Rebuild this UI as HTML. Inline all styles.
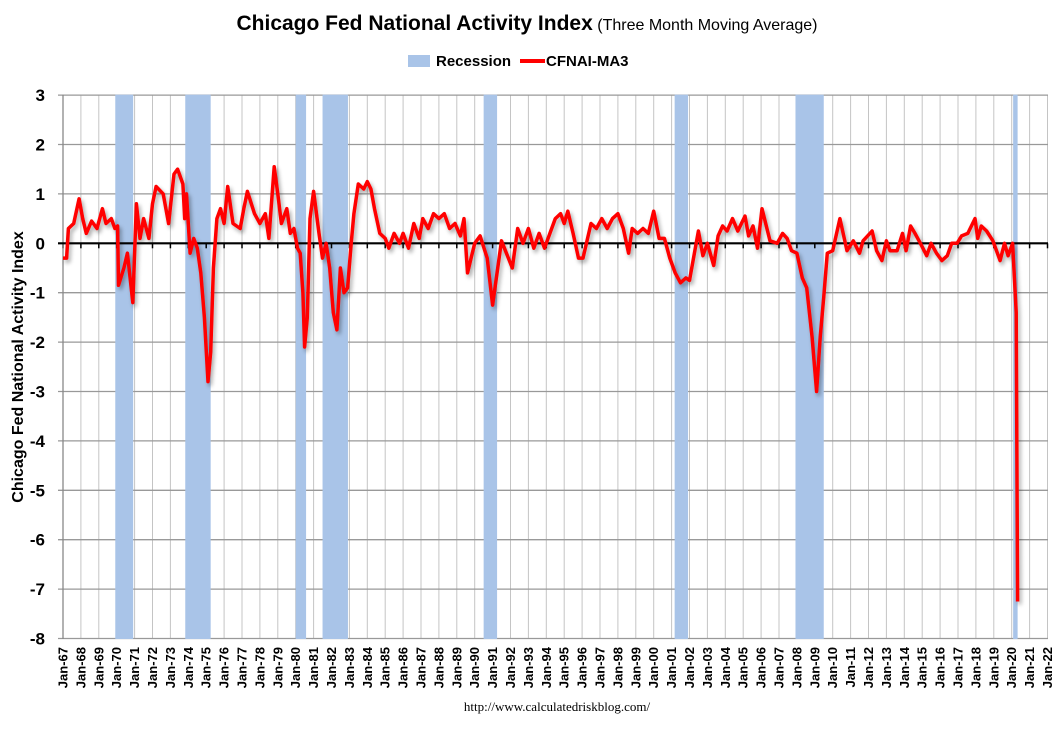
<!DOCTYPE html>
<html><head><meta charset="utf-8"><style>
body{margin:0;background:#fff;}
svg text{font-family:"Liberation Sans",Arial,sans-serif;}
</style></head><body>
<svg id="chart" width="1057" height="726" xmlns="http://www.w3.org/2000/svg">
<defs><filter id="sh" x="-5%" y="-5%" width="110%" height="110%"><feGaussianBlur in="SourceAlpha" stdDeviation="2"/><feOffset dx="2" dy="3"/><feComponentTransfer><feFuncA type="linear" slope="0.35"/></feComponentTransfer><feMerge><feMergeNode/><feMergeNode in="SourceGraphic"/></feMerge></filter></defs>
<text x="527" y="30" text-anchor="middle"><tspan font-size="21" font-weight="bold">Chicago Fed National Activity Index</tspan><tspan font-size="16"> (Three Month Moving Average)</tspan></text>
<g>
<rect x="408" y="55" width="22" height="12" fill="#a9c4e8"/>
<text x="436" y="66" font-size="15" font-weight="bold">Recession</text>
<line x1="520" y1="61" x2="545" y2="61" stroke="#ff0000" stroke-width="4"/>
<text x="546" y="66" font-size="15" font-weight="bold">CFNAI-MA3</text>
</g>
<g id="grid"></g><g id="rec"></g><g id="axes"></g><g id="series"></g>
<text transform="translate(23,367) rotate(-90)" text-anchor="middle" font-size="16" font-weight="bold">Chicago Fed National Activity Index</text>
<text x="557" y="711" text-anchor="middle" font-size="13" style="font-family:'Liberation Serif',serif">http://www.calculatedriskblog.com/</text>
</svg>
<script>
const yTicks=[3,2,1,0,-1,-2,-3,-4,-5,-6,-7,-8];
const yearLabels=[];for(let y=67;y<=122;y++){yearLabels.push('Jan-'+String(y%100).padStart(2,'0'));}
const recStart=[1969.92,1973.83,1980.0,1981.5,1990.5,2001.17,2007.92,2020.08];
const recEnd=[1970.92,1975.25,1980.58,1982.92,1991.25,2001.92,2009.5,2020.33];
const dates=[1967.0,1967.2,1967.3,1967.6,1967.9,1968.1,1968.3,1968.6,1968.9,1969.2,1969.4,1969.7,1969.9,1970.05,1970.1,1970.4,1970.6,1970.9,1971.1,1971.3,1971.5,1971.8,1972.0,1972.2,1972.6,1972.9,1973.2,1973.4,1973.7,1973.8,1973.9,1974.1,1974.3,1974.5,1974.7,1974.9,1975.1,1975.25,1975.4,1975.6,1975.8,1976.0,1976.2,1976.5,1976.9,1977.1,1977.3,1977.7,1978.0,1978.3,1978.5,1978.8,1979.0,1979.2,1979.5,1979.7,1979.9,1980.1,1980.25,1980.4,1980.5,1980.65,1980.8,1981.0,1981.3,1981.5,1981.7,1981.9,1982.1,1982.3,1982.5,1982.7,1982.9,1983.1,1983.25,1983.5,1983.8,1984.0,1984.2,1984.4,1984.7,1985.0,1985.2,1985.5,1985.8,1986.0,1986.3,1986.6,1986.9,1987.1,1987.4,1987.7,1988.0,1988.3,1988.6,1988.9,1989.2,1989.4,1989.6,1990.0,1990.3,1990.7,1991.0,1991.5,1992.1,1992.4,1992.7,1993.0,1993.3,1993.6,1993.9,1994.2,1994.5,1994.8,1995.0,1995.2,1995.5,1995.8,1996.05,1996.5,1996.8,1997.1,1997.4,1997.7,1998.0,1998.3,1998.6,1998.8,1999.1,1999.4,1999.7,2000.0,2000.3,2000.6,2000.9,2001.2,2001.5,2001.8,2002.0,2002.5,2002.75,2003.0,2003.35,2003.6,2003.85,2004.1,2004.4,2004.7,2005.1,2005.3,2005.55,2005.8,2006.05,2006.5,2006.9,2007.2,2007.45,2007.7,2008.0,2008.3,2008.55,2008.85,2009.1,2009.3,2009.5,2009.7,2010.0,2010.4,2010.8,2011.15,2011.5,2011.7,2012.2,2012.45,2012.75,2013.0,2013.2,2013.6,2013.9,2014.1,2014.35,2014.6,2014.9,2015.25,2015.5,2015.8,2016.1,2016.4,2016.65,2016.95,2017.2,2017.55,2017.95,2018.1,2018.3,2018.6,2018.95,2019.35,2019.6,2019.8,2020.05,2020.25,2020.33];
const values=[-0.3,-0.3,0.3,0.4,0.9,0.5,0.2,0.45,0.3,0.7,0.4,0.5,0.3,0.35,-0.85,-0.5,-0.2,-1.2,0.8,0.1,0.5,0.1,0.8,1.15,1.0,0.4,1.4,1.5,1.2,0.5,1.0,-0.2,0.1,-0.1,-0.6,-1.5,-2.8,-2.2,-0.5,0.5,0.7,0.4,1.15,0.4,0.3,0.7,1.05,0.6,0.4,0.6,0.1,1.55,1.0,0.4,0.7,0.2,0.3,-0.1,-0.2,-1.0,-2.1,-1.5,0.5,1.05,0.2,-0.3,0.0,-0.5,-1.4,-1.75,-0.5,-1.0,-0.9,0.0,0.6,1.2,1.1,1.25,1.1,0.7,0.2,0.1,-0.1,0.2,0.0,0.2,-0.1,0.4,0.1,0.5,0.3,0.6,0.5,0.6,0.3,0.4,0.15,0.5,-0.6,0.0,0.15,-0.3,-1.25,0.05,-0.5,0.3,0.0,0.3,-0.1,0.2,-0.1,0.2,0.5,0.6,0.4,0.65,0.2,-0.3,-0.3,0.4,0.3,0.5,0.3,0.5,0.6,0.3,-0.2,0.3,0.2,0.3,0.2,0.65,0.1,0.1,-0.3,-0.6,-0.8,-0.7,-0.75,0.25,-0.25,0.0,-0.45,0.15,0.35,0.25,0.5,0.25,0.55,0.15,0.35,-0.1,0.7,0.05,0.0,0.2,0.1,-0.15,-0.2,-0.7,-0.9,-1.9,-3.0,-1.9,-1.1,-0.2,-0.15,0.5,-0.15,0.05,-0.2,0.05,0.25,-0.15,-0.35,0.05,-0.15,-0.15,0.2,-0.15,0.35,0.2,0.0,-0.25,0.0,-0.2,-0.35,-0.25,0.0,0.0,0.15,0.2,0.5,0.1,0.35,0.25,0.05,-0.35,0.0,-0.25,0.0,-1.4,-7.25];
const X0=63,PXY=17.9,Y0=243.3,PXU=49.4,TOP=94.7,BOT=639,RIGHT=1048;
const xs=d=>X0+(d-1967)*PXY, ys=v=>Y0-v*PXU;
const NS='http://www.w3.org/2000/svg';
function mk(tag,attrs,parent){const e=document.createElementNS(NS,tag);for(const k in attrs)e.setAttribute(k,attrs[k]);parent.appendChild(e);return e;}
const grid=document.getElementById('grid'),rec=document.getElementById('rec'),axes=document.getElementById('axes'),series=document.getElementById('series');
yearLabels.forEach((lab,i)=>{const x=xs(1967+i);
 if(i>0){const l=mk('line',{x1:x,y1:TOP,x2:x,y2:BOT,stroke:'#c4c4c4','stroke-width':1},grid);
 
 }
 const t=mk('text',{transform:`translate(${x+4.5},647) rotate(-90)`,'text-anchor':'end','font-size':13,'font-weight':'bold'},axes);
 t.textContent=lab;
 
 
 const tk=mk('line',{x1:x,y1:Y0,x2:x,y2:Y0+5,stroke:'#000','stroke-width':1.5},axes);
 
 
});
yTicks.forEach(v=>{const y=ys(v);
 if(v!==0){const l=mk('line',{x1:X0-5,y1:y,x2:RIGHT,y2:y,stroke:'#999','stroke-width':1.3},grid);
 
 }
 const t=mk('text',{x:45,y:y+6,'text-anchor':'end','font-size':17,'font-weight':'bold'},axes);
 t.textContent=v;
 
 
});
recStart.forEach((s,i)=>{const r=mk('rect',{x:xs(s),y:TOP,width:xs(recEnd[i])-xs(s),height:BOT-TOP,fill:'#a9c4e8'},rec);
 
 });
const ya=mk('line',{x1:X0,y1:TOP,x2:X0,y2:BOT,stroke:'#888','stroke-width':1.3},axes);


const zl=mk('line',{x1:X0-5,y1:Y0,x2:RIGHT,y2:Y0,stroke:'#000','stroke-width':2.2},axes);


const pts=dates.map((d,i)=>xs(d).toFixed(1)+','+ys(values[i]).toFixed(1)).join(' ');
const pl=mk('polyline',{points:pts,fill:'none',stroke:'#ff0000','stroke-width':3.5,'stroke-linejoin':'round',filter:'url(#sh)'},series);


</script>
</body></html>
